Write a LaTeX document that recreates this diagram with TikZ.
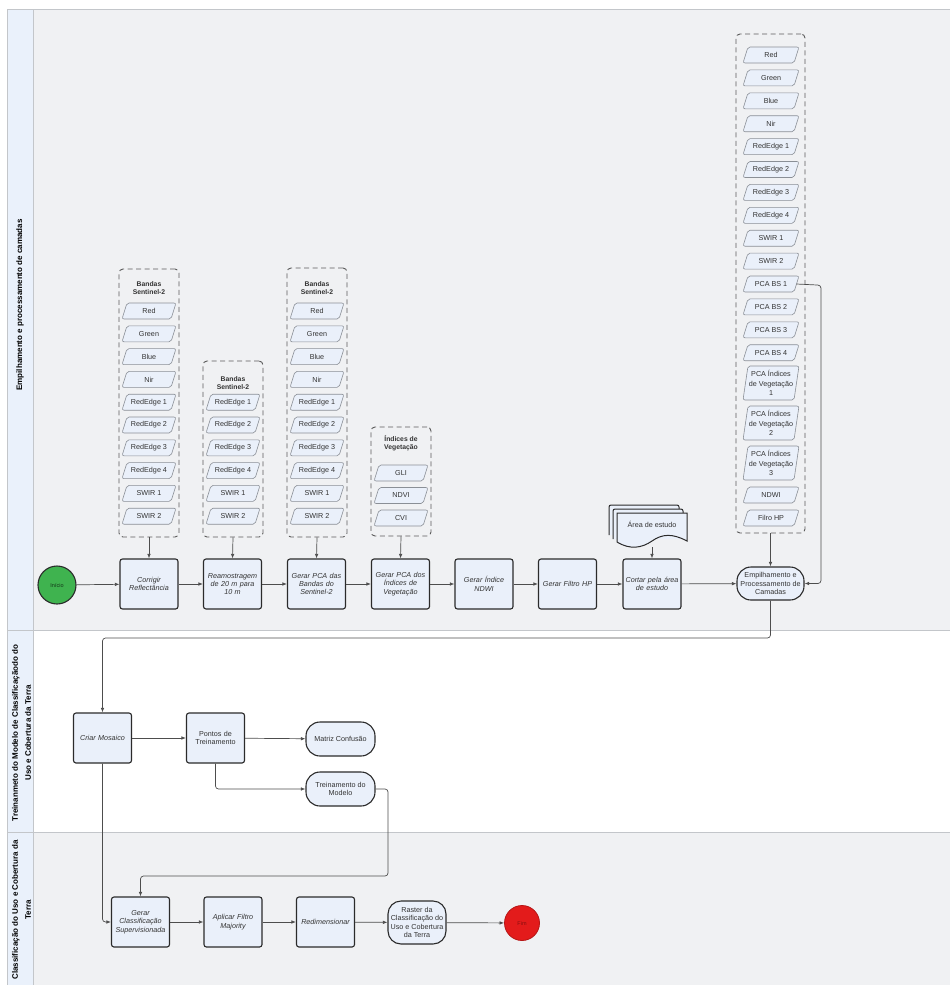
\documentclass[tikz,border=0pt]{standalone}
\usepackage{fontspec}
\setmainfont{Liberation Sans}
\usetikzlibrary{arrows.meta,calc}
\definecolor{lanegray}{HTML}{F0F1F3}
\definecolor{hdr}{HTML}{EAF1FB}
\definecolor{boxfill}{HTML}{EAF0FA}
\definecolor{boxline}{HTML}{2B2B2B}
\definecolor{itmline}{HTML}{8A8F96}
\definecolor{grpline}{HTML}{5A5A5A}
\definecolor{connc}{HTML}{4D4D4D}
\definecolor{txt}{HTML}{333333}
\definecolor{startg}{HTML}{3FB34F}
\definecolor{endr}{HTML}{E31B1B}
\definecolor{laneline}{HTML}{C3C6CA}
\tikzset{
 proc/.style={draw=boxline, line width=1.1pt, fill=boxfill, rounded corners=2.5pt, minimum width=58pt, minimum height=50pt, text width=56pt, inner sep=1pt, align=center, font=\fontsize{7.2}{8.3}\selectfont\itshape, text=txt},
 procup/.style={proc, font=\fontsize{7.2}{8.3}\selectfont},
 term/.style={draw=boxline, line width=1.1pt, fill=boxfill, rounded corners=14pt, minimum width=69pt, minimum height=34pt, inner sep=0pt, align=center, font=\fontsize{7.2}{8.3}\selectfont, text=txt},
 grp/.style={draw=grpline, line width=0.9pt, dash pattern=on 5pt off 3.5pt, rounded corners=4pt, inner sep=0pt},
 gtitle/.style={font=\fontsize{6.8}{8.3}\selectfont\bfseries, align=center, text=txt, inner sep=0pt},
 itmshape/.style={draw=itmline, line width=0.6pt, fill=boxfill, rounded corners=2pt},
 itmtxt/.style={font=\fontsize{7.2}{9.3}\selectfont, align=center, inner sep=0pt, text=txt},
 conn/.style={draw=connc, line width=0.7pt, rounded corners=3pt, -{Latex[length=4.5pt,width=3.5pt]}},
 lanelab/.style={rotate=90, font=\fontsize{8}{13}\selectfont\bfseries, align=center, text=black, inner sep=0pt},
 docs/.style={draw=boxline, line width=1pt, fill=boxfill},
}
% item: name, x, y, width, height, text
\newcommand{\itm}[6]{%
 \filldraw[itmshape] ({#2-#4/2},{#3+#5/2}) -- ({#2+#4/2-5},{#3+#5/2}) -- ({#2+#4/2},{#3-#5/2}) -- ({#2-#4/2+5},{#3-#5/2}) -- cycle;
 \node[itmtxt] (#1) at ({#2},{#3}) {#6};
 \coordinate (#1r) at ({#2+#4/2-2.5},{#3});}
\begin{document}
\begin{tikzpicture}[x=1pt,y=-1pt]
\useasboundingbox (0,0) rectangle (950,985);
\fill[white] (0,0) rectangle (950,985);
% lanes
\fill[lanegray] (7,9) rectangle (950,630);
\fill[lanegray] (7,832) rectangle (950,985);
\fill[hdr] (7,9) rectangle (33,985);
\draw[laneline, line width=0.9pt] (7,985) -- (7,9) -- (950,9);
\draw[laneline, line width=0.9pt] (33,9) -- (33,985);
\draw[laneline, line width=0.9pt] (7,630) -- (950,630);
\draw[laneline, line width=0.9pt] (7,832) -- (950,832);
\node[lanelab] (l1) at (20,305) {Empilhamento e processamento de camadas};
\node[lanelab] (l2) at (21.5,733) {Treinanmeto do Modelo de Classificaçãodo do\\Uso e Cobertura da Terra};
\node[lanelab] (l3) at (21.5,910) {Classificação do Uso e Cobertura da\\Terra};

% groups
\node[grp, minimum width=60pt, minimum height=268pt] (g1) at (149,403) {};
\node[grp, minimum width=60pt, minimum height=176pt] (g2) at (233,449) {};
\node[grp, minimum width=60pt, minimum height=269pt] (g3) at (317,402.5) {};
\node[grp, minimum width=60pt, minimum height=109pt] (g4) at (401,481.5) {};
\node[grp, minimum width=69pt, minimum height=499pt] (g5) at (770.5,283.5) {};
\node[gtitle] (t1) at (149,288) {Bandas\\Sentinel-2};
\node[gtitle] (t2) at (233,383) {Bandas\\Sentinel-2};
\node[gtitle] (t3) at (317,288) {Bandas\\Sentinel-2};
\node[gtitle] (t4) at (401,443) {Índices de\\Vegetação};

\foreach \t [count=\i] in {Red,Green,Blue,Nir,RedEdge 1,RedEdge 2,RedEdge 3,RedEdge 4,SWIR 1,SWIR 2}{
  \itm{a\i}{149}{311+22.8*(\i-1)}{54}{16}{\t}
  \itm{c\i}{317}{311+22.8*(\i-1)}{54}{16}{\t}
}
\foreach \t [count=\i] in {RedEdge 1,RedEdge 2,RedEdge 3,RedEdge 4,SWIR 1,SWIR 2}{
  \itm{b\i}{233}{402.2+22.8*(\i-1)}{54}{16}{\t}
}
\itm{d1}{401}{473}{54}{16}{GLI}
\itm{d2}{401}{495.5}{54}{16}{NDVI}
\itm{d3}{401}{518}{54}{16}{CVI}
\foreach \t [count=\i] in {Red,Green,Blue,Nir,RedEdge 1,RedEdge 2,RedEdge 3,RedEdge 4,SWIR 1,SWIR 2,PCA BS 1,PCA BS 2,PCA BS 3,PCA BS 4}{
  \itm{e\i}{771}{55+22.9*(\i-1)}{56}{16}{\t}
}
\itm{e15}{771}{383}{56}{34}{PCA Índices\\de Vegetação\\1}
\itm{e16}{771}{423}{56}{34}{PCA Índices\\de Vegetação\\2}
\itm{e17}{771}{463}{56}{34}{PCA Índices\\de Vegetação\\3}
\itm{e18}{771}{495}{56}{16}{NDWI}
\itm{e19}{771}{518}{56}{16}{Filro HP}

% document stack
\filldraw[docs, rounded corners=2pt] (609,535) -- (609,505) -- (679,505) -- (679,535);
\filldraw[docs, rounded corners=2pt] (613,539) -- (613,509) -- (683,509) -- (683,539);
\filldraw[docs] (617,542) -- (617,513) -- (687,513) -- (687,541) .. controls (672,533) and (662,534) .. (652,541) .. controls (642,548) and (630,550) .. (617,542) -- cycle;
\node[itmtxt] (doc) at (652,524) {Área de estudo};
\coordinate (docb) at (652,547);

% main row lane 1
\node[circle, draw=boxline, line width=1.1pt, fill=startg, minimum size=38pt, inner sep=0pt, font=\fontsize{5.5}{6}\selectfont, text=black!70!startg] (ini) at (57,585) {Início};
\node[proc] (corr) at (149,584) {Corrigir\\Reflectância};
\node[proc] (ream) at (232.5,584) {Reamostragem\\de 20 m para\\10 m};
\node[proc] (gp1) at (316.5,584) {Gerar PCA das\\Bandas do\\Sentinel-2};
\node[proc] (gp2) at (400.5,584) {Gerar PCA dos\\Índices de\\Vegetação};
\node[proc] (ndwi) at (484,584) {Gerar Índice\\NDWI};
\node[proc] (filt) at (567.5,584) {Gerar Filtro HP};
\node[proc] (cort) at (652,584) {Cortar pela área\\de estudo};
\node[term, minimum width=67pt, minimum height=33pt] (emp) at (770.5,583.5) {Empilhamento e\\Processamento de\\Camadas};

\draw[conn] (ini) -- (corr);
\draw[conn] (corr) -- (ream);
\draw[conn] (ream) -- (gp1);
\draw[conn] (gp1) -- (gp2);
\draw[conn] (gp2) -- (ndwi);
\draw[conn] (ndwi) -- (filt);
\draw[conn] (filt) -- (cort);
\draw[conn] (cort) -- (emp);
\draw[conn] (g1.south) -- (corr.north);
\draw[conn] (g2.south) -- (ream.north);
\draw[conn] (g3.south) -- (gp1.north);
\draw[conn] (g4.south) -- (gp2.north);
\draw[conn] (docb) -- (cort.north);
\draw[conn] (g5.south) -- (emp.north);
\coordinate (k2) at (821,285.2);
\draw[conn] (e11r) -- (k2) |- (emp.east);

% lane 2
\node[proc] (mos) at (102.5,738) {Criar Mosaico};
\node[procup] (pts) at (215.5,738) {Pontos de\\Treinamento};
\node[term] (mat) at (340.5,739) {Matriz Confusão};
\node[term] (trn) at (340.5,789) {Treinamento do\\Modelo};
\coordinate (k1) at (770.5,638);
\draw[conn] (emp.south) -- (k1) -| (mos.north);
\draw[conn] (mos) -- (pts);
\draw[conn] (pts) -- (mat);
\draw[conn] (pts.south) |- (trn.west);

% lane 3
\node[proc] (gcs) at (140.5,922) {Gerar\\Classificação\\Supervisionada};
\node[proc] (maj) at (233,922) {Aplicar Filtro\\Majority};
\node[proc] (rdm) at (325.5,922) {Redimensionar};
\node[term, minimum width=58pt, minimum height=43pt, rounded corners=13pt] (ras) at (417,922.5) {Raster da\\Classificação do\\Uso e Cobertura\\da Terra};
\node[circle, draw=endr!80!black, line width=0.8pt, fill=endr, minimum size=35pt, inner sep=0pt, font=\fontsize{5.5}{6}\selectfont, text=endr!60!black] (fim) at (522,923) {Fim};
\coordinate (k3) at (388,876);
\draw[conn] (trn.east) -| (k3) -| (gcs.north);
\draw[conn] (mos.south) |- (gcs.west);
\draw[conn] (gcs) -- (maj);
\draw[conn] (maj) -- (rdm);
\draw[conn] (rdm) -- (ras);
\draw[conn] (ras) -- (fim);
\end{tikzpicture}
\end{document}
